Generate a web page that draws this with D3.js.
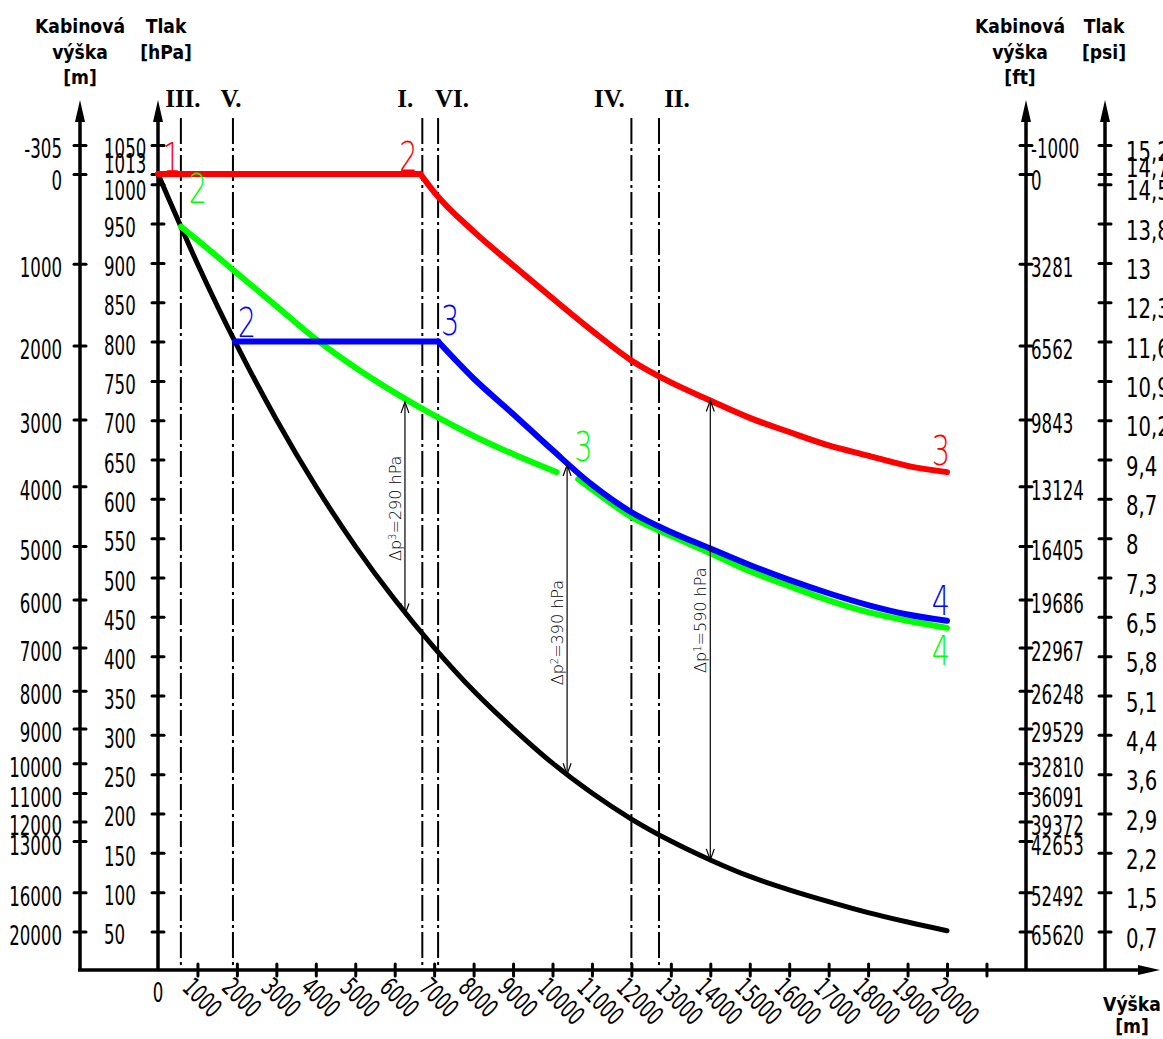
<!DOCTYPE html>
<html><head><meta charset="utf-8">
<script src="https://cdn.jsdelivr.net/npm/d3@7"></script>
<style>
body{margin:0;background:#fff;}
svg{display:block;}
.num{font-family:'DejaVu Sans Condensed','DejaVu Sans',sans-serif;font-size:26px;fill:#000;}
.title{font-family:'DejaVu Sans',sans-serif;font-weight:bold;font-size:20px;fill:#000;}
.roman{font-family:'Liberation Serif',serif;font-weight:bold;font-size:25px;fill:#000;}
.thin{font-family:'DejaVu Sans ExtraLight','DejaVu Sans',sans-serif;font-weight:200;}
</style></head><body>
<svg id="chart" width="1163" height="1039"></svg>
<script>
// ---------- data ----------
const xTicks = [1000,2000,3000,4000,5000,6000,7000,8000,9000,10000,11000,12000,13000,14000,15000,16000,17000,18000,19000,20000,21000];
const xTickLabels = ["1000","2000","3000","4000","5000","6000","7000","8000","9000","10000","11000","12000","13000","14000","15000","16000","17000","18000","19000","20000",""];
const pressureTicks = [1050,1013,1000,950,900,850,800,750,700,650,600,550,500,450,400,350,300,250,200,150,100,50];
const psiLabels = ["15,2","14,7","14,5","13,8","13","12,3","11,6","10,9","10,2","9,4","8,7","8","7,3","6,5","5,8","5,1","4,4","3,6","2,9","2,2","1,5","0,7"];
const cabinPressure = [1050,1013,899,795,701,616,540,472,411,356,308,264,226,190,165,100,50];
const cabinMeters = ["-305","0","1000","2000","3000","4000","5000","6000","7000","8000","9000","10000","11000","12000","13000","16000","20000"];
const cabinFeet = ["-1000","0","3281","6562","9843","13124","16405","19686","22967","26248","29529","32810","36091","39372","42653","52492","65620"];
const markerNames = ["III.","V.","I.","VI.","IV.","II."];
const markerAlt = [580,1900,6700,7100,12000,12700];

const blackAlt = [0,1000,2000,3000,4000,5000,6000,7000,8000,9000,10000,11000,12000,13000,14000,15000,16000,17000,18000,19000,20000];
const blackP   = [1013,899,795,701,616,540,472,411,356,308,264,226,193,165,141,120,103,88,74,62,51];
const redAlt = [0,6650,7000,8000,9000,10000,11000,12000,13000,14000,15000,16000,17000,18000,19000,20000];
const redP   = [1013,1013,990,940,897,855,814,776,748,725,703,685,668,655,642,634];
const blueAlt = [1950,7100,8000,9000,10000,11000,12000,13000,14000,15000,16000,17000,18000,19000,20000];
const blueP   = [800,800,753,708,662,618,583,558,537,516,497,480,465,453,445];
const greenAlt1 = [583,1000,2000,3000,4000,5000,6000,7000,8000,9000,10100];
const greenP1   = [946,929,887,845,803,767,735,706,680,657,634];
const greenAlt2 = [10650,11000,12000,13000,14000,15000,16000,17000,18000,19000,20000];
const greenP2   = [625,612,577,553,531,508,489,471,456,445,436];
const dpAlt = [6260,10370,14000];
const dpTop = [723,643,725];
const dpBottom = [453,250,141];
const dpIndex = ["3","2","1"];
const dpValue = [290,390,590];

// ---------- layout ----------
const W=1163,H=1039;
const axM=80, axP=158, axFt=1026, axPsi=1105, axTop=100, axBottom=970;
const dpLabelShift=[0,13,-10];
const svg=d3.select('#chart');
svg.append('rect').attr('width',W).attr('height',H).attr('fill','#fff');
const x=d3.scaleLinear().domain([0,20000]).range([158,947]);
const y=d3.scaleLinear().domain([50,1013]).range([931.5,174]);

function condense(sel,f){
  sel.each(function(){
    const L=this.getComputedTextLength();
    if(L>0) d3.select(this).attr('textLength',L*f).attr('lengthAdjust','spacingAndGlyphs');
  });
}

// titles
function title(lines, cx, y0, step){
  lines.forEach((t,i)=>{
    const tx=svg.append('text').attr('class','title').attr('x',cx).attr('y',y0+i*step).attr('text-anchor','middle').text(t);
    condense(tx,0.86);
  });
}
title(["Kabinová","výška","[m]"],80,33,25.5);
title(["Tlak","[hPa]"],166,33,25.5);
title(["Kabinová","výška","[ft]"],1020,33,25.5);
title(["Tlak","[psi]"],1104,33,25.5);
title(["Výška","[m]"],1132,1011,22);

// marker vertical lines
const romanDx={"III.":2,"V.":-2,"I.":-17,"VI.":14,"IV.":-22,"II.":18};
markerAlt.forEach((a,i)=>{
  svg.append('line').attr('x1',x(a)).attr('x2',x(a)).attr('y1',118).attr('y2',axBottom)
    .attr('stroke','#000').attr('stroke-width',2).attr('stroke-dasharray','26,4,3,4');
  svg.append('text').attr('class','roman').attr('x',x(a)+romanDx[markerNames[i]]).attr('y',107)
    .attr('text-anchor','middle').text(markerNames[i]);
});

// axis lines with arrows
function vAxis(ax){
  svg.append('line').attr('x1',ax).attr('x2',ax).attr('y1',axBottom).attr('y2',axTop+15).attr('stroke','#000').attr('stroke-width',3.5);
  svg.append('path').attr('d',`M${ax},${axTop} L${ax-5},${axTop+22} L${ax+5},${axTop+22} Z`).attr('fill','#000');
}
[axM,axP,axFt,axPsi].forEach(vAxis);
svg.append('line').attr('x1',axM-2).attr('x2',1145).attr('y1',axBottom).attr('y2',axBottom).attr('stroke','#000').attr('stroke-width',3.5);
svg.append('path').attr('d',`M1160,${axBottom} L1138,${axBottom-5} L1138,${axBottom+5} Z`).attr('fill','#000');

const NUMF=0.71;
function styleTicks(g, dyFn){
  g.select('.domain').remove();
  g.selectAll('.tick line').remove();
  g.selectAll('.tick').append('line').attr('x1',-6).attr('x2',6).attr('stroke','#000').attr('stroke-width',3).attr('stroke-linecap','round');
  g.selectAll('.tick text').attr('class','num').attr('dy',dyFn);
}
// cabin altitude [m]
const gM=svg.append('g').attr('transform',`translate(${axM},0)`)
  .call(d3.axisLeft(y).tickValues(cabinPressure).tickFormat((d,i)=>cabinMeters[i]).tickSize(0).tickPadding(18));
styleTicks(gM,(d)=>d===1013?'0.6em':'0.5em');
condense(gM.selectAll('.tick text'),NUMF);
// pressure [hPa]
const gP=svg.append('g').attr('transform',`translate(${axP},0)`)
  .call(d3.axisLeft(y).tickValues(pressureTicks).tickFormat(d=>String(d)).tickSize(0));
styleTicks(gP,(d)=>d===1013?'-0.05em':(d===1000?'0.58em':'0.48em'));
gP.selectAll('.tick text').attr('x',-54).attr('text-anchor','start');
condense(gP.selectAll('.tick text'),NUMF);
// cabin altitude [ft]
const gF=svg.append('g').attr('transform',`translate(${axFt},0)`)
  .call(d3.axisRight(y).tickValues(cabinPressure).tickFormat((d,i)=>cabinFeet[i]).tickSize(0).tickPadding(5));
styleTicks(gF,(d)=>d===1013?'0.6em':'0.5em');
condense(gF.selectAll('.tick text'),NUMF);
// pressure [psi]
const gS=svg.append('g').attr('transform',`translate(${axPsi},0)`)
  .call(d3.axisRight(y).tickValues(pressureTicks).tickFormat((d,i)=>psiLabels[i]).tickSize(0).tickPadding(21));
styleTicks(gS,(d)=>d===1013?'0.1em':'0.6em');
condense(gS.selectAll('.tick text'),0.84);

// x axis
const gX=svg.append('g').attr('transform',`translate(0,${axBottom})`)
  .call(d3.axisBottom(x).tickValues(xTicks).tickFormat((d,i)=>xTickLabels[i]).tickSize(0));
gX.select('.domain').remove();
gX.selectAll('.tick line').remove();
gX.selectAll('.tick').append('line').attr('y1',-6).attr('y2',6).attr('stroke','#000').attr('stroke-width',3).attr('stroke-linecap','round');
gX.selectAll('.tick text').attr('class','num').attr('y',0).attr('dy',0).attr('text-anchor','start')
  .attr('transform','translate(-17,19) rotate(45)');
condense(gX.selectAll('.tick text'),NUMF);
const zero=svg.append('text').attr('class','num').attr('x',x(0)).attr('y',1002).attr('text-anchor','middle').text('0');
condense(zero,NUMF);

// curves
const lin=d3.line().x(d=>x(d[0])).y(d=>y(d[1]));
const smooth=d3.line().x(d=>x(d[0])).y(d=>y(d[1])).curve(d3.curveMonotoneX);
const zip=(a,b)=>a.map((v,i)=>[v,b[i]]);
function draw(gen,pts,color,w){
  svg.append('path').attr('d',gen(pts)).attr('fill','none').attr('stroke',color).attr('stroke-width',w).attr('stroke-linejoin','round').attr('stroke-linecap','round');
}
draw(smooth,zip(blackAlt,blackP),'#000',5);
draw(smooth,zip(greenAlt1,greenP1),'#00ff00',6);
draw(smooth,zip(greenAlt2,greenP2),'#00ff00',6);
const bl=zip(blueAlt,blueP);
draw(lin,bl.slice(0,2),'#0000ff',6);
draw(smooth,bl.slice(1),'#0000ff',6);
const rd=zip(redAlt,redP);
draw(lin,rd.slice(0,2),'#ff0000',6);
draw(smooth,rd.slice(1),'#ff0000',6);

// point labels
function ptLabel(t,pt,dx,dy,color){
  svg.append('text').attr('class','thin').attr('font-size',40).attr('fill',color)
    .attr('text-anchor','middle').attr('dominant-baseline','central')
    .attr('transform',`translate(${x(pt[0])+dx},${y(pt[1])+dy}) scale(0.72,1)`).text(t);
}
ptLabel('1',rd[0],14,-16,'#ff0000');
ptLabel('2',rd[1],-12,-17,'#ff0000');
ptLabel('3',rd[rd.length-1],-6,-21,'#ff0000');
ptLabel('2',bl[0],12,-18,'#0000ff');
ptLabel('3',bl[1],12,-20,'#0000ff');
ptLabel('4',bl[bl.length-1],-6,-20,'#0000ff');
ptLabel('2',[greenAlt1[0],greenP1[0]],17,-37,'#00ff00');
ptLabel('3',[greenAlt1[greenAlt1.length-1],greenP1[greenP1.length-1]],27,-25,'#00ff00');
ptLabel('4',[greenAlt2[greenAlt2.length-1],greenP2[greenP2.length-1]],-6,23,'#00ff00');

// pressure-difference arrows
dpAlt.forEach((a,i)=>{
  const xx=x(a), y1=y(dpTop[i]), y2=y(dpBottom[i]);
  svg.append('line').attr('x1',xx).attr('x2',xx).attr('y1',y1).attr('y2',y2).attr('stroke','#000').attr('stroke-width',1.2);
  svg.append('path').attr('d',`M${xx-4},${y1+11} L${xx},${y1} L${xx+4},${y1+11} M${xx-4},${y2-11} L${xx},${y2} L${xx+4},${y2-11}`)
    .attr('fill','none').attr('stroke','#000').attr('stroke-width',1.2);
  const t=svg.append('text').attr('class','thin').attr('font-size',16).attr('fill','#000').attr('text-anchor','middle')
    .attr('transform',`translate(${xx-4},${(y1+y2)/2+dpLabelShift[i]}) rotate(-90)`);
  t.append('tspan').text('Δp');
  t.append('tspan').attr('font-size',10).attr('dy',-5).text(dpIndex[i]);
  t.append('tspan').attr('dy',5).text(`=${dpValue[i]} hPa`);
});
</script>
</body></html>
